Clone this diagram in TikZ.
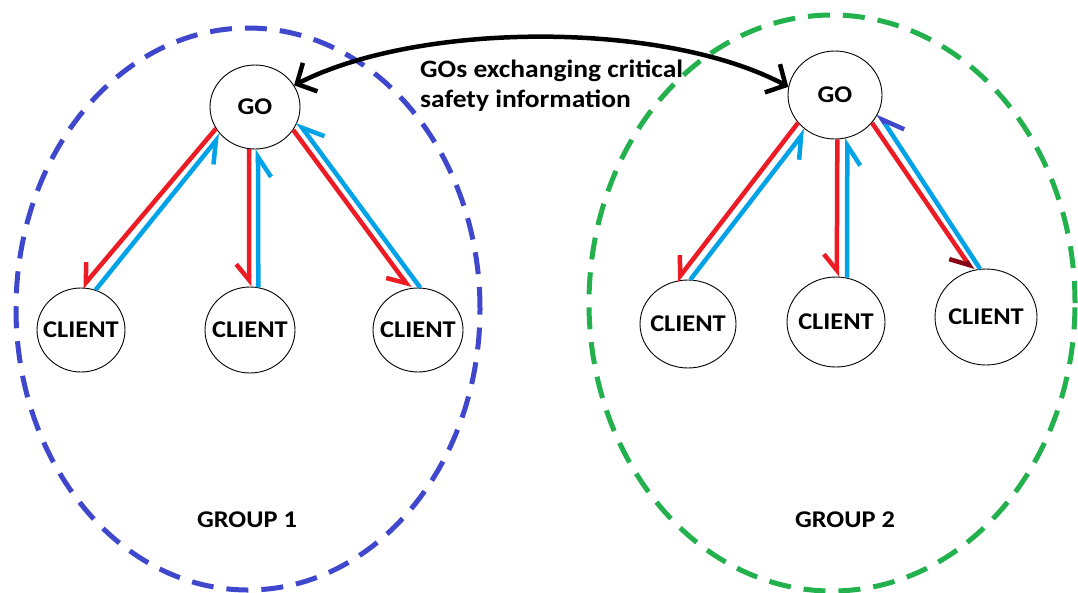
\documentclass[tikz,border=0pt]{standalone}
\usepackage{fontspec}
\setmainfont{Carlito}
\newfontfamily\lblfont[FakeStretch=1.1]{Carlito}
\usetikzlibrary{arrows.meta,shapes.geometric}
\definecolor{grpblue}{HTML}{3F48CC}
\definecolor{grpgreen}{HTML}{22B14C}
\definecolor{reqred}{HTML}{ED1C24}
\definecolor{repblue}{HTML}{00A2E8}
\definecolor{tipdark}{HTML}{880015}
% centred label that does not widen its ellipse
\newcommand{\stlabel}[1]{\makebox[0pt]{#1}}
\begin{document}
\begin{tikzpicture}[x=1pt,y=-1pt,
  station/.style={ellipse, draw=black, line width=0.9pt, inner sep=0pt,
    font=\lblfont\fontsize{24}{24}\selectfont\bfseries},
  grp/.style={line width=5pt, dash pattern=on 22pt off 13pt},
  label/.style={inner sep=0pt, font=\lblfont\fontsize{24}{24}\selectfont\bfseries},
  tocl/.style={draw=reqred, line width=4.5pt,
    -{Straight Barb[harpoon,swap,length=16pt,width=26pt]}},
  togo/.style={draw=repblue, line width=4.5pt,
    -{Straight Barb[harpoon,swap,length=20pt,width=26pt]}},
  link/.style={draw=black, line width=4.5pt,
    {Straight Barb[length=15pt,width=32pt]}-{Straight Barb[length=15pt,width=32pt]}}
]
\useasboundingbox (0,0) rectangle (1078,592);
\fill[white] (0,0) rectangle (1078,592);

% group boundaries
\draw[grp, draw=grpblue] (248,309) ellipse [x radius=232pt, y radius=281pt];
\draw[grp, draw=grpgreen] (832,303) ellipse [x radius=243pt, y radius=288pt];

% group 1 stations
\node[station, minimum width=90pt, minimum height=84pt] (go1) at (255,107) {\stlabel{GO}};
\node[station, minimum width=88pt, minimum height=84pt] (c11) at (81,330) {\stlabel{CLIENT}};
\node[station, minimum width=90pt, minimum height=86pt] (c12) at (250,330) {\stlabel{CLIENT}};
\node[station, minimum width=90pt, minimum height=84pt] (c13) at (418,330) {\stlabel{CLIENT}};

% group 2 stations
\node[station, minimum width=94pt, minimum height=88pt] (go2) at (835,95) {\stlabel{GO}};
\node[station, minimum width=96pt, minimum height=88pt] (c21) at (688,324) {\stlabel{CLIENT}};
\node[station, minimum width=98pt, minimum height=90pt] (c22) at (836,322) {\stlabel{CLIENT}};
\node[station, minimum width=102pt, minimum height=96pt] (c23) at (986,317) {\stlabel{CLIENT}};

% group labels
\node[label] (g1) at (247,520) {GROUP 1};
\node[label] (g2) at (845,520) {GROUP 2};

% group 1 traffic
\draw[tocl] (go1.209) -- (c11.89);
\draw[togo] (c11.70) -- (go1.219);
\draw[tocl] (go1.262) -- (c12.91);
\draw[togo] (c12.79) -- (go1.274);
\draw[tocl] (go1.329) -- (c13.101);
\draw[togo] (c13.87) -- (go1.341);

% group 2 traffic
\draw[tocl] (go2.217) -- (c21.105);
\draw[togo] (c21.87) -- (go2.230);
\draw[tocl] (go2.273) -- (c22.89);
\draw[togo] (c22.76) -- (go2.286);
\draw[draw=reqred, line width=4.5pt,
  -{Straight Barb[harpoon,swap,length=16pt,width=26pt,color=tipdark]}]
  (go2.323) -- (c23.106);
\draw[draw=repblue, line width=4.5pt,
  -{Straight Barb[harpoon,swap,length=20pt,width=26pt,color=grpblue]}]
  (c23.97) -- (go2.337);

% link between group owners
\draw[link] (go1.29) .. controls (420,21) and (665,21) .. (go2.170);
\node[inner sep=0pt, anchor=north west, align=left,
  font=\lblfont\fontsize{25}{30}\selectfont\bfseries] (msg) at (420,60)
  {GOs exchanging critical\\safety information};
\end{tikzpicture}
\end{document}
